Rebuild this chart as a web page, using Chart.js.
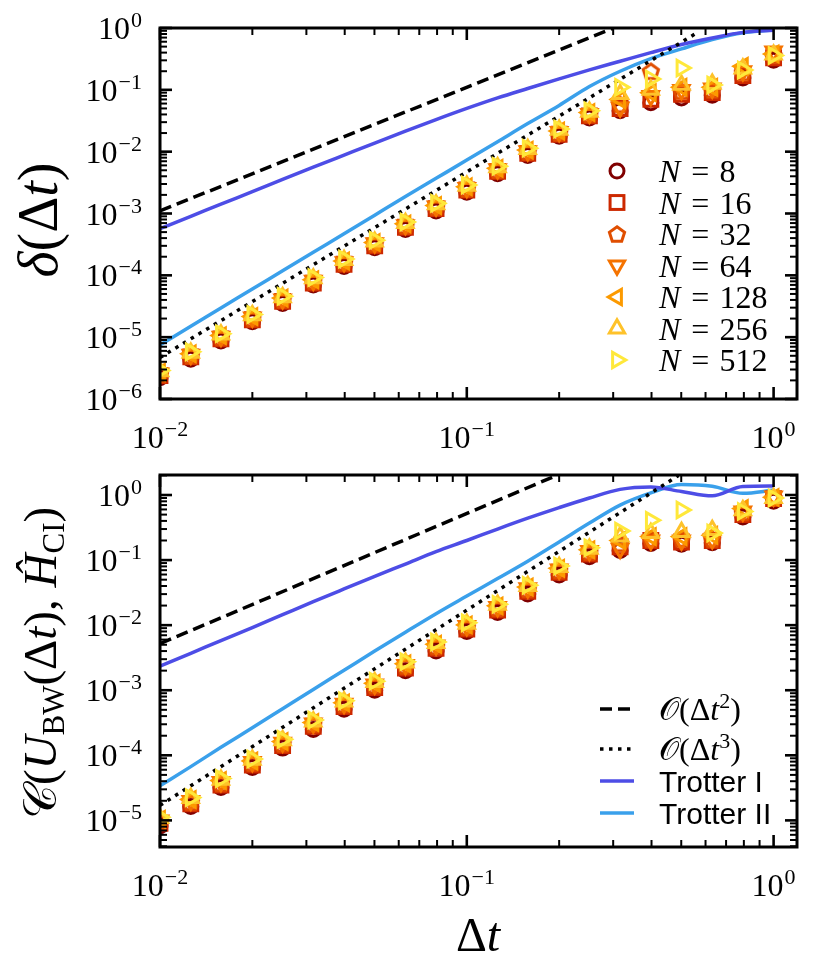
<!DOCTYPE html>
<html>
<head>
<meta charset="utf-8">
<script src="https://cdn.jsdelivr.net/npm/chart.js@4.4.1/dist/chart.umd.min.js"></script>
<style>
  body { margin: 0; background: #fff; }
  #wrap { position: relative; width: 831px; height: 962px; }
  canvas { position: absolute; left: 0; }
</style>
</head>
<body>
<div id="wrap">
  <canvas id="topChart" width="831" height="462" style="top:0"></canvas>
  <canvas id="botChart" width="831" height="500" style="top:462px"></canvas>
</div>
<script>
// time steps shared by every series
const dt = [0.01, 0.0126, 0.0158, 0.02, 0.0251, 0.0316, 0.0398, 0.0501, 0.0631, 0.0794,
            0.1, 0.126, 0.158, 0.2, 0.251, 0.316, 0.398, 0.501, 0.631, 0.794, 1.0];
const sizes = [8, 16, 32, 64, 128, 256, 512];

// ---- top panel : delta(dt) per system size
const deltaN8   = [2.2e-6, 4.4e-6, 8.7e-6, 1.77e-5, 3.5e-5, 7.0e-5, 1.39e-4, 2.8e-4, 5.5e-4, 1.1e-3, 2.2e-3, 4.4e-3, 8.7e-3, 1.77e-2, 3.5e-2, 0.046, 0.062, 0.074, 0.082, 0.155, 0.30];
const deltaN16  = [2.4e-6, 4.8e-6, 9.4e-6, 1.91e-5, 3.8e-5, 7.5e-5, 1.51e-4, 3.0e-4, 6.0e-4, 1.2e-3, 2.4e-3, 4.8e-3, 9.4e-3, 1.91e-2, 3.8e-2, 0.050, 0.070, 0.085, 0.090, 0.17, 0.33];
const deltaN32  = [2.5e-6, 5.0e-6, 9.9e-6, 2.0e-5, 4.0e-5, 8.0e-5, 1.59e-4, 3.2e-4, 6.3e-4, 1.26e-3, 2.5e-3, 5.0e-3, 9.9e-3, 2.0e-2, 4.0e-2, 0.058, 0.20, 0.095, 0.10, 0.19, 0.36];
const deltaN64  = [2.6e-6, 5.2e-6, 1.02e-5, 2.08e-5, 4.1e-5, 8.2e-5, 1.64e-4, 3.3e-4, 6.5e-4, 1.3e-3, 2.6e-3, 5.2e-3, 1.02e-2, 2.08e-2, 4.1e-2, 0.052, 0.080, 0.10, 0.105, 0.20, 0.42];
const deltaN128 = [2.7e-6, 5.4e-6, 1.06e-5, 2.16e-5, 4.3e-5, 8.5e-5, 1.7e-4, 3.4e-4, 6.8e-4, 1.35e-3, 2.7e-3, 5.4e-3, 1.06e-2, 2.16e-2, 4.3e-2, 0.070, 0.090, 0.11, 0.11, 0.24, 0.38];
const deltaN256 = [2.8e-6, 5.6e-6, 1.1e-5, 2.25e-5, 4.4e-5, 8.9e-5, 1.77e-4, 3.5e-4, 7.0e-4, 1.4e-3, 2.8e-3, 5.6e-3, 1.1e-2, 2.25e-2, 4.4e-2, 0.085, 0.10, 0.12, 0.125, 0.22, 0.37];
const deltaN512 = [2.9e-6, 5.8e-6, 1.14e-5, 2.33e-5, 4.6e-5, 9.2e-5, 1.84e-4, 3.7e-4, 7.3e-4, 1.46e-3, 2.9e-3, 5.8e-3, 1.14e-2, 2.33e-2, 4.6e-2, 0.11, 0.15, 0.225, 0.12, 0.21, 0.36];
const trotterITop  = [5.7e-4, 9.0e-4, 1.42e-3, 2.25e-3, 3.55e-3, 5.6e-3, 8.8e-3, 1.38e-2, 2.15e-2, 3.3e-2, 5.0e-2, 7.4e-2, 0.105, 0.15, 0.21, 0.29, 0.40, 0.54, 0.69, 0.85, 0.92];
const trotterIITop = [7.5e-6, 1.5e-5, 2.97e-5, 6.0e-5, 1.19e-4, 2.37e-4, 4.7e-4, 9.4e-4, 1.88e-3, 3.7e-3, 7.3e-3, 1.45e-2, 2.85e-2, 5.6e-2, 0.113, 0.20, 0.32, 0.46, 0.65, 0.84, 0.93];
const order2Top = [[0.01, 1.1e-3], [0.3, 0.99]];
const order3Top = [[0.01, 4.7e-6], [0.57, 0.87]];

// ---- bottom panel : cost C(U_BW, H_CI) per system size
const costN8   = [8.2e-6, 1.64e-5, 3.2e-5, 6.5e-5, 1.29e-4, 2.5e-4, 5.1e-4, 1.0e-3, 2.0e-3, 4.0e-3, 8.0e-3, 1.56e-2, 3.0e-2, 5.9e-2, 0.113, 0.14, 0.18, 0.175, 0.185, 0.46, 0.80];
const costN16  = [9.0e-6, 1.8e-5, 3.5e-5, 7.1e-5, 1.41e-4, 2.8e-4, 5.6e-4, 1.1e-3, 2.2e-3, 4.4e-3, 8.7e-3, 1.7e-2, 3.3e-2, 6.5e-2, 0.124, 0.16, 0.20, 0.19, 0.20, 0.50, 0.88];
const costN32  = [9.6e-6, 1.9e-5, 3.7e-5, 7.6e-5, 1.5e-4, 3.0e-4, 6.0e-4, 1.18e-3, 2.35e-3, 4.7e-3, 9.3e-3, 1.82e-2, 3.55e-2, 6.9e-2, 0.132, 0.18, 0.21, 0.21, 0.21, 0.54, 0.90];
const costN64  = [1.0e-5, 2.0e-5, 3.9e-5, 7.9e-5, 1.57e-4, 3.1e-4, 6.2e-4, 1.23e-3, 2.45e-3, 4.9e-3, 9.7e-3, 1.9e-2, 3.7e-2, 7.2e-2, 0.138, 0.15, 0.20, 0.20, 0.21, 0.56, 0.95];
const costN128 = [1.04e-5, 2.1e-5, 4.1e-5, 8.2e-5, 1.63e-4, 3.2e-4, 6.4e-4, 1.28e-3, 2.55e-3, 5.1e-3, 1.01e-2, 1.98e-2, 3.85e-2, 7.5e-2, 0.144, 0.20, 0.23, 0.23, 0.24, 0.62, 0.92];
const costN256 = [1.08e-5, 2.2e-5, 4.2e-5, 8.5e-5, 1.7e-4, 3.3e-4, 6.7e-4, 1.33e-3, 2.65e-3, 5.3e-3, 1.05e-2, 2.05e-2, 4.0e-2, 7.8e-2, 0.149, 0.23, 0.26, 0.27, 0.29, 0.58, 0.90];
const costN512 = [1.12e-5, 2.24e-5, 4.4e-5, 8.8e-5, 1.76e-4, 3.5e-4, 6.9e-4, 1.38e-3, 2.75e-3, 5.5e-3, 1.09e-2, 2.1e-2, 4.1e-2, 8.1e-2, 0.155, 0.28, 0.41, 0.59, 0.26, 0.56, 0.90];
const trotterIBot  = [2.35e-3, 3.7e-3, 5.8e-3, 9.2e-3, 1.45e-2, 2.3e-2, 3.6e-2, 5.6e-2, 8.7e-2, 0.135, 0.20, 0.30, 0.44, 0.64, 0.90, 1.22, 1.33, 1.13, 0.97, 1.35, 1.37];
const trotterIIBot = [3.4e-5, 6.7e-5, 1.33e-4, 2.65e-4, 5.2e-4, 1.03e-3, 2.03e-3, 4.0e-3, 7.8e-3, 1.5e-2, 2.8e-2, 5.2e-2, 9.6e-2, 0.19, 0.37, 0.70, 1.08, 1.45, 1.36, 1.06, 1.19];
const order2Bot = [[0.01, 5.2e-3], [0.2, 2.08]];
const order3Bot = [[0.01, 1.7e-5], [0.49, 2.0]];

// axis ticks
const xTicks = [0.01, 0.1, 1];
const yTicksTop = [1e-6, 1e-5, 1e-4, 1e-3, 1e-2, 1e-1, 1];
const yTicksBot = [1e-5, 1e-4, 1e-3, 1e-2, 1e-1, 1];

const SERIF = '"Liberation Serif", "DejaVu Serif", serif';
const SANS = '"Liberation Sans", "DejaVu Sans", sans-serif';
const colorsN = ['#800000', '#cc2800', '#e04e00', '#f57300', '#fc9a00', '#fec22a', '#ffe83a'];
const lineColor1 = '#4d4de6';
const lineColor2 = '#3aa0eb';

// marker shapes (matplotlib o, s, p, v, <, ^, >)
const shapes = [
  {style: 'circle', r: 7, rot: 0},
  {style: 'rect', r: 9.8, rot: 0},
  {style: 'pentagon', r: 8, rot: 0},
  {style: 'triangle', r: 8.8, rot: 180},
  {style: 'triangle', r: 8.8, rot: -90},
  {style: 'triangle', r: 8.8, rot: 0},
  {style: 'triangle', r: 8.8, rot: 90}
];

function pentagonPath(g, x, y, r) {
  g.beginPath();
  for (let i = 0; i < 5; i++) {
    const a = -Math.PI / 2 + i * 2 * Math.PI / 5;
    const px = x + r * Math.cos(a), py = y + r * Math.sin(a);
    if (i === 0) g.moveTo(px, py); else g.lineTo(px, py);
  }
  g.closePath();
}

function pentagonCanvas(color, r) {
  const c = document.createElement('canvas');
  const s = Math.ceil(2 * r + 8);
  c.width = s; c.height = s;
  const g = c.getContext('2d');
  g.strokeStyle = color; g.lineWidth = 3;
  pentagonPath(g, s / 2, s / 2 + 0.8, r);
  g.stroke();
  return c;
}

// draw a legend marker the same way chart.js draws the points
function drawMarker(ctx, i, x, y) {
  const sh = shapes[i];
  ctx.save();
  ctx.strokeStyle = colorsN[i];
  ctx.lineWidth = 3;
  if (sh.style === 'circle') {
    ctx.beginPath(); ctx.arc(x, y, sh.r, 0, Math.PI * 2); ctx.stroke();
  } else if (sh.style === 'rect') {
    const s = sh.r * Math.SQRT1_2;
    ctx.strokeRect(x - s, y - s, 2 * s, 2 * s);
  } else if (sh.style === 'pentagon') {
    pentagonPath(ctx, x, y + 0.8, sh.r); ctx.stroke();
  } else {
    let rad = sh.rot * Math.PI / 180;
    ctx.beginPath();
    ctx.moveTo(x + Math.sin(rad) * sh.r, y - Math.cos(rad) * sh.r);
    rad += 2 * Math.PI / 3;
    ctx.lineTo(x + Math.sin(rad) * sh.r, y - Math.cos(rad) * sh.r);
    rad += 2 * Math.PI / 3;
    ctx.lineTo(x + Math.sin(rad) * sh.r, y - Math.cos(rad) * sh.r);
    ctx.closePath(); ctx.stroke();
  }
  ctx.restore();
}

function pts(ys) { return dt.map((x, i) => ({x: x, y: ys[i]})); }
function pairs(p) { return p.map(v => ({x: v[0], y: v[1]})); }

function markerSets(series) {
  return series.map((ys, i) => {
    const sh = shapes[i];
    return {
      label: 'N = ' + sizes[i],
      data: pts(ys),
      showLine: false,
      pointStyle: sh.style === 'pentagon' ? pentagonCanvas(colorsN[i], sh.r) : sh.style,
      pointRotation: sh.rot,
      pointRadius: sh.r,
      pointBorderWidth: 3,
      pointBorderColor: colorsN[i],
      pointBackgroundColor: 'rgba(0,0,0,0)',
      clip: 0,
      order: 10 - i
    };
  });
}

function lineSets(o2, o3, t1, t2) {
  return [
    {label: 'O2', data: pairs(o2), borderColor: '#000', borderWidth: 3.5, borderDash: [12, 6], pointRadius: 0, clip: 0, order: 20},
    {label: 'O3', data: pairs(o3), borderColor: '#000', borderWidth: 3.5, borderDash: [3.5, 5.5], pointRadius: 0, clip: 0, order: 20},
    {label: 'Trotter I', data: pts(t1), borderColor: lineColor1, borderWidth: 3.5, pointRadius: 0, cubicInterpolationMode: 'monotone', clip: 0, order: 20},
    {label: 'Trotter II', data: pts(t2), borderColor: lineColor2, borderWidth: 3.5, pointRadius: 0, cubicInterpolationMode: 'monotone', clip: 0, order: 20}
  ];
}

// "10" with a superscript exponent, y = vertical centre of the digits
function drawPow(ctx, v, x, y, align) {
  const exp = Math.round(Math.log10(v));
  const e = exp < 0 ? '\u2212' + (-exp) : String(exp);
  const base = '32px ' + SERIF, sup = '22px ' + SERIF;
  ctx.font = base; const w1 = ctx.measureText('10').width;
  ctx.font = sup; const w2 = ctx.measureText(e).width;
  const w = w1 + 1 + w2;
  const x0 = align === 'right' ? x - w : x - w / 2;
  const baseline = y + 11;
  ctx.textAlign = 'left'; ctx.textBaseline = 'alphabetic'; ctx.fillStyle = '#000';
  ctx.font = base; ctx.fillText('10', x0, baseline);
  ctx.font = sup; ctx.fillText(e, x0 + w1 + 1, baseline - 12);
}

// runs of [text, font, dy] centred on x, baseline y
function drawRuns(ctx, runs, x, y) {
  let total = 0;
  runs.forEach(r => { ctx.font = r[1]; total += ctx.measureText(r[0]).width; });
  let cx = x - total / 2;
  ctx.textAlign = 'left'; ctx.textBaseline = 'alphabetic'; ctx.fillStyle = '#000';
  runs.forEach(r => {
    ctx.font = r[1];
    ctx.fillText(r[0], cx, y + (r[2] || 0));
    cx += ctx.measureText(r[0]).width;
  });
}

function drawFrame(chart, yTicks) {
  const ctx = chart.ctx, a = chart.chartArea, sx = chart.scales.x, sy = chart.scales.y;
  const logTicks = (s) => {
    const out = [];
    for (let d = Math.floor(Math.log10(s.min)); d <= Math.ceil(Math.log10(s.max)); d++) {
      for (let m = 1; m < 10; m++) {
        const v = m * Math.pow(10, d);
        if (v >= s.min * 0.999 && v <= s.max * 1.001) out.push({v: v, major: m === 1});
      }
    }
    return out;
  };
  ctx.save();
  ctx.strokeStyle = '#000';
  const seg = (x1, y1, x2, y2) => { ctx.beginPath(); ctx.moveTo(x1, y1); ctx.lineTo(x2, y2); ctx.stroke(); };
  logTicks(sx).forEach(t => {
    const p = sx.getPixelForValue(t.v), len = t.major ? 12 : 7;
    ctx.lineWidth = t.major ? 2.6 : 2;
    seg(p, a.bottom, p, a.bottom - len);
    seg(p, a.top, p, a.top + len);
  });
  logTicks(sy).forEach(t => {
    const p = sy.getPixelForValue(t.v), len = t.major ? 12 : 7;
    ctx.lineWidth = t.major ? 2.6 : 2;
    seg(a.left, p, a.left + len, p);
    seg(a.right, p, a.right - len, p);
  });
  ctx.lineWidth = 3;
  ctx.strokeRect(a.left, a.top, a.right - a.left, a.bottom - a.top);
  xTicks.forEach(v => drawPow(ctx, v, sx.getPixelForValue(v), a.bottom + 38, 'center'));
  yTicks.forEach(v => drawPow(ctx, v, a.left - 18, sy.getPixelForValue(v), 'right'));
  ctx.restore();
}

function makeChart(id, datasets, yMin, yMax, pad, yTicks, extra) {
  return new Chart(document.getElementById(id), {
    type: 'line',
    data: {datasets: datasets},
    options: {
      responsive: false,
      animation: false,
      layout: {padding: pad},
      plugins: {legend: {display: false}, tooltip: {enabled: false}},
      scales: {
        x: {type: 'logarithmic', min: 0.01, max: 1.192, display: false},
        y: {type: 'logarithmic', min: yMin, max: yMax, display: false}
      }
    },
    plugins: [{
      id: 'frame',
      afterDraw(chart) {
        drawFrame(chart, yTicks);
        extra(chart.ctx, chart);
      }
    }]
  });
}

// top panel
makeChart('topChart',
  lineSets(order2Top, order3Top, trotterITop, trotterIITop).concat(
    markerSets([deltaN8, deltaN16, deltaN32, deltaN64, deltaN128, deltaN256, deltaN512])),
  1e-6, 1, {left: 160, right: 34, top: 28, bottom: 63}, yTicksTop,
  (ctx) => {
    const rows = [171, 202.5, 234, 265.5, 297, 328.5, 360];
    sizes.forEach((n, i) => {
      drawMarker(ctx, i, 617, rows[i]);
      ctx.textAlign = 'left'; ctx.textBaseline = 'alphabetic'; ctx.fillStyle = '#000';
      ctx.font = 'italic 32px ' + SERIF;
      ctx.fillText('N', 659, rows[i] + 11);
      const wN = ctx.measureText('N').width;
      ctx.font = '32px ' + SERIF;
      ctx.fillText('=', 659 + wN + 11, rows[i] + 11);
      ctx.fillText(String(n), 659 + wN + 11 + ctx.measureText('=').width + 10, rows[i] + 11);
    });
    ctx.save();
    ctx.translate(39, 220);
    ctx.rotate(-Math.PI / 2);
    const f = '56px ' + SERIF, fi = 'italic 56px ' + SERIF;
    drawRuns(ctx, [['\u03b4', fi], ['(', f], ['\u0394', f], ['t', fi], [')', f]], 0, 18);
    ctx.restore();
  });

// bottom panel
makeChart('botChart',
  lineSets(order2Bot, order3Bot, trotterIBot, trotterIIBot).concat(
    markerSets([costN8, costN16, costN32, costN64, costN128, costN256, costN512])),
  3.9e-6, 2.03, {left: 160, right: 34, top: 13, bottom: 115}, yTicksBot,
  (ctx) => {
    // line legend
    const off = 462;
    const rows = [709 - off, 749 - off, 781 - off, 813 - off];
    ctx.save();
    ctx.lineWidth = 3.5;
    ctx.strokeStyle = '#000';
    ctx.setLineDash([12, 6]);
    ctx.beginPath(); ctx.moveTo(600, rows[0]); ctx.lineTo(634, rows[0]); ctx.stroke();
    ctx.setLineDash([3.5, 5.5]);
    ctx.beginPath(); ctx.moveTo(600, rows[1]); ctx.lineTo(634, rows[1]); ctx.stroke();
    ctx.setLineDash([]);
    ctx.strokeStyle = lineColor1;
    ctx.beginPath(); ctx.moveTo(600, rows[2]); ctx.lineTo(634, rows[2]); ctx.stroke();
    ctx.strokeStyle = lineColor2;
    ctx.beginPath(); ctx.moveTo(600, rows[3]); ctx.lineTo(634, rows[3]); ctx.stroke();
    ctx.restore();

    const f = '32px ' + SERIF, fi = 'italic 32px ' + SERIF, fs = '22px ' + SERIF;
    const orderLabel = (p, y) => {
      const runs = [['\ud835\udcaa', f], ['(', f], ['\u0394', f], ['t', fi], [p, fs, -12], [')', f]];
      let w = 0; runs.forEach(r => { ctx.font = r[1]; w += ctx.measureText(r[0]).width; });
      drawRuns(ctx, runs, 659 + w / 2, y + 11);
    };
    orderLabel('2', rows[0]);
    orderLabel('3', rows[1]);
    ctx.font = '30px ' + SANS; ctx.textAlign = 'left'; ctx.fillStyle = '#000';
    ctx.fillText('Trotter I', 659, rows[2] + 11);
    ctx.fillText('Trotter II', 659, rows[3] + 11);

    // axis titles
    drawRuns(ctx, [['\u0394', '48px ' + SERIF], ['t', 'italic 48px ' + SERIF]], 478, 951 - off);
    ctx.save();
    ctx.translate(40, 663 - off);
    ctx.rotate(-Math.PI / 2);
    const F = '47px ' + SERIF, FI = 'italic 47px ' + SERIF, S = '31px ' + SERIF;
    drawRuns(ctx, [['\ud835\udc9e', F], ['(', F], ['U', FI], ['BW', S, 8], ['(', F], ['\u0394', F], ['t', FI], [')', F],
                   [', ', F], ['\u0124', FI], ['CI', S, 8], [')', F]], 0, 16);
    ctx.restore();
  });
</script>
</body>
</html>
